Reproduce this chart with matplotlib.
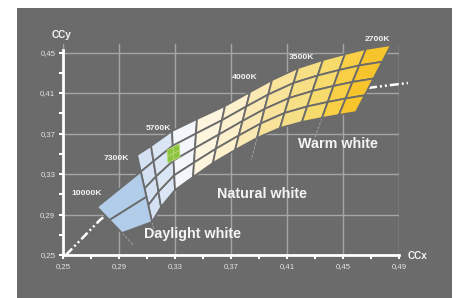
import matplotlib
matplotlib.use('Agg')
import matplotlib.pyplot as plt
import numpy as np
from matplotlib.patches import Polygon, Rectangle

plt.rcParams['font.family'] = ['Liberation Sans', 'DejaVu Sans']

BG = '#6b6b6b'
GRID = '#a5a5a5'
FG = '#f4f4f4'

# ---------------- data ----------------
x_ticks = [0.25, 0.29, 0.33, 0.37, 0.41, 0.45, 0.49]
x_tick_labels = ['0,25', '0,29', '0,33', '0,37', '0,41', '0,45', '0,49']
y_ticks = [0.25, 0.29, 0.33, 0.37, 0.41, 0.45]
y_tick_labels = ['0,25', '0,29', '0,33', '0,37', '0,41', '0,45']

# iso-temperature boundary lines of the band (top end / bottom end)
iso_top_x = [0.3029, 0.3129, 0.3279, 0.3457, 0.3657, 0.3836, 0.3993, 0.4179, 0.4357, 0.4514, 0.4664, 0.4843]
iso_top_y = [0.3488, 0.3577, 0.3725, 0.3843, 0.3972, 0.4110, 0.4228, 0.4347, 0.4426, 0.4485, 0.4535, 0.4574]
iso_bot_x = [0.3136, 0.3200, 0.3300, 0.3429, 0.3571, 0.3729, 0.3886, 0.4050, 0.4207, 0.4350, 0.4471, 0.4593]
iso_bot_y = [0.2826, 0.2974, 0.3142, 0.3270, 0.3409, 0.3537, 0.3656, 0.3754, 0.3814, 0.3853, 0.3883, 0.3912]
col_colors = ['#d4e1f3', '#dbe6f5', '#f3f6fb', '#fdf5dd', '#fdf0cc', '#fbe9b4',
              '#f9e39b', '#f7df86', '#f6da6c', '#f8cf45', '#f8c42c']
n_rows = 4

# 10000K block (left edge), right edge shares the first iso line
blue_left_top = (0.2743, 0.2974)
blue_left_bot = (0.2921, 0.2717)
blue_color = '#b2cde9'

# green reference marker (corners TL, TR, BR, BL)
marker_x = [0.3243, 0.3329, 0.3336, 0.3250]
marker_y = [0.3537, 0.3596, 0.3468, 0.3409]
marker_color = '#8dc43d'

# Planckian locus
locus_x = [0.2521, 0.2764, 0.3064, 0.3336, 0.3621, 0.3886, 0.4036, 0.4264, 0.4464, 0.4729, 0.4964]
locus_y = [0.2500, 0.2846, 0.3162, 0.3438, 0.3665, 0.3853, 0.3912, 0.4031, 0.4110, 0.4159, 0.4199]

# faint extensions of labelled iso-lines (index into iso lines, -1 = 10000K edge)
ext_index = [-1, 0, 2, 6, 9]
ext_frac = [0.46, 0.2, 0.3, 0.38, 0.35]

cct_labels = ['10000K', '7300K', '5700K', '4000K', '3500K', '2700K']
cct_x = [0.2779, 0.2971, 0.3271, 0.3893, 0.4293, 0.4836]
cct_y = [0.3105, 0.3458, 0.3754, 0.4258, 0.4446, 0.4624]

region_labels = ['Daylight white', 'Natural white', 'Warm white']
region_x = [0.3079, 0.3600, 0.4179]
region_y = [0.2707, 0.3101, 0.3600]

# ---------------- figure ----------------
fig = plt.figure(figsize=(4.58, 2.98), dpi=100)
fig.patch.set_facecolor('white')
fig.patches.append(Rectangle((17 / 458, 0), 435 / 458, 290 / 298, transform=fig.transFigure,
                             facecolor=BG, edgecolor='none', zorder=-5))
ax = fig.add_axes([63 / 458, 43 / 298, 336 / 458, 211.1 / 298])
ax.set_facecolor('none')
ax.set_xlim(0.25, 0.49)
ax.set_ylim(0.25, 0.4585)

for s in ['top', 'right']:
    ax.spines[s].set_visible(False)
for s in ['left', 'bottom']:
    ax.spines[s].set_color('white')
    ax.spines[s].set_linewidth(2)
    ax.spines[s].set_zorder(6)
ax.spines['left'].set_bounds(0.25, 0.452)

ax.set_xticks(x_ticks)
ax.set_xticklabels(x_tick_labels)
ax.set_yticks(y_ticks)
ax.set_yticklabels(y_tick_labels)
ax.set_xticks([(a + b) / 2 for a, b in zip(x_ticks[:-1], x_ticks[1:])], minor=True)
ax.set_yticks([(a + b) / 2 for a, b in zip(y_ticks[:-1], y_ticks[1:])], minor=True)
ax.tick_params(which='both', direction='out', length=3, width=1.5, color='white',
               labelsize=5.6, labelcolor='#e4e4e4')
ax.tick_params(axis='x', pad=3)
ax.tick_params(axis='y', pad=2.5)
ax.grid(True, which='major', color=GRID, lw=1.0, zorder=1)
ax.set_axisbelow(True)

# locus (underneath the band)
ax.plot(locus_x, locus_y, color='white', lw=1.8, ls=(0, (3.6, 1.2, 0.8, 1.2, 0.8, 1.2)),
        zorder=2, clip_on=False, solid_capstyle='butt', dash_capstyle='butt')

tops = np.column_stack([iso_top_x, iso_top_y])
bots = np.column_stack([iso_bot_x, iso_bot_y])


def lerp(p, q, t):
    return np.asarray(p) + (np.asarray(q) - np.asarray(p)) * t


# faint extension lines
for idx, fr in zip(ext_index, ext_frac):
    if idx < 0:
        t, b = np.array(blue_left_top), np.array(blue_left_bot)
    else:
        t, b = tops[idx], bots[idx]
    e = b + (b - t) * fr
    ax.plot([b[0], e[0]], [b[1], e[1]], color='#a0a0a0', lw=0.7, ls=(0, (3, 1.5)),
            zorder=2, clip_on=False)

# band cells
for c in range(len(tops) - 1):
    for r in range(n_rows):
        t0, t1 = r / n_rows, (r + 1) / n_rows
        pts = [lerp(tops[c], bots[c], t0), lerp(tops[c + 1], bots[c + 1], t0),
               lerp(tops[c + 1], bots[c + 1], t1), lerp(tops[c], bots[c], t1)]
        ax.add_patch(Polygon(pts, closed=True, facecolor=col_colors[c], edgecolor=BG,
                             lw=1.3, joinstyle='miter', zorder=3, clip_on=False))

# 10000K block: two cells
r_top = lerp(tops[0], bots[0], 0.25)
r_bot = bots[0]
for k in range(2):
    a0, a1 = k / 2, (k + 1) / 2
    pts = [lerp(blue_left_top, blue_left_bot, a0), lerp(r_top, r_bot, a0),
           lerp(r_top, r_bot, a1), lerp(blue_left_top, blue_left_bot, a1)]
    ax.add_patch(Polygon(pts, closed=True, facecolor=blue_color, edgecolor=BG,
                         lw=1.3, joinstyle='miter', zorder=3, clip_on=False))

# green marker, 2x2
mc = np.column_stack([marker_x, marker_y])
for i in range(2):
    for j in range(2):
        top_l = lerp(mc[0], mc[1], j / 2)
        top_r = lerp(mc[0], mc[1], (j + 1) / 2)
        bot_l = lerp(mc[3], mc[2], j / 2)
        bot_r = lerp(mc[3], mc[2], (j + 1) / 2)
        pts = [lerp(top_l, bot_l, i / 2), lerp(top_r, bot_r, i / 2),
               lerp(top_r, bot_r, (i + 1) / 2), lerp(top_l, bot_l, (i + 1) / 2)]
        ax.add_patch(Polygon(pts, closed=True, facecolor=marker_color, edgecolor='#b5d97a',
                             lw=0.6, zorder=4, clip_on=False))

# labels
for lab, x, y in zip(cct_labels, cct_x, cct_y):
    ax.text(x, y, lab, ha='right', va='center', fontsize=6.1, fontweight='bold',
            color=FG, zorder=7, clip_on=False)
for lab, x, y in zip(region_labels, region_x, region_y):
    ax.text(x, y, lab, ha='left', va='center', fontsize=10.3, fontweight='bold',
            color=FG, zorder=7, clip_on=False)

ax.text(0.2493, 0.4673, 'CCy', ha='center', va='center', fontsize=7.2, fontweight='bold',
        color=FG, clip_on=False)
ax.text(0.5036, 0.2490, 'CCx', ha='center', va='center', fontsize=7.2, fontweight='bold',
        color=FG, clip_on=False)

fig.savefig('out.png', dpi=100, facecolor='white')
